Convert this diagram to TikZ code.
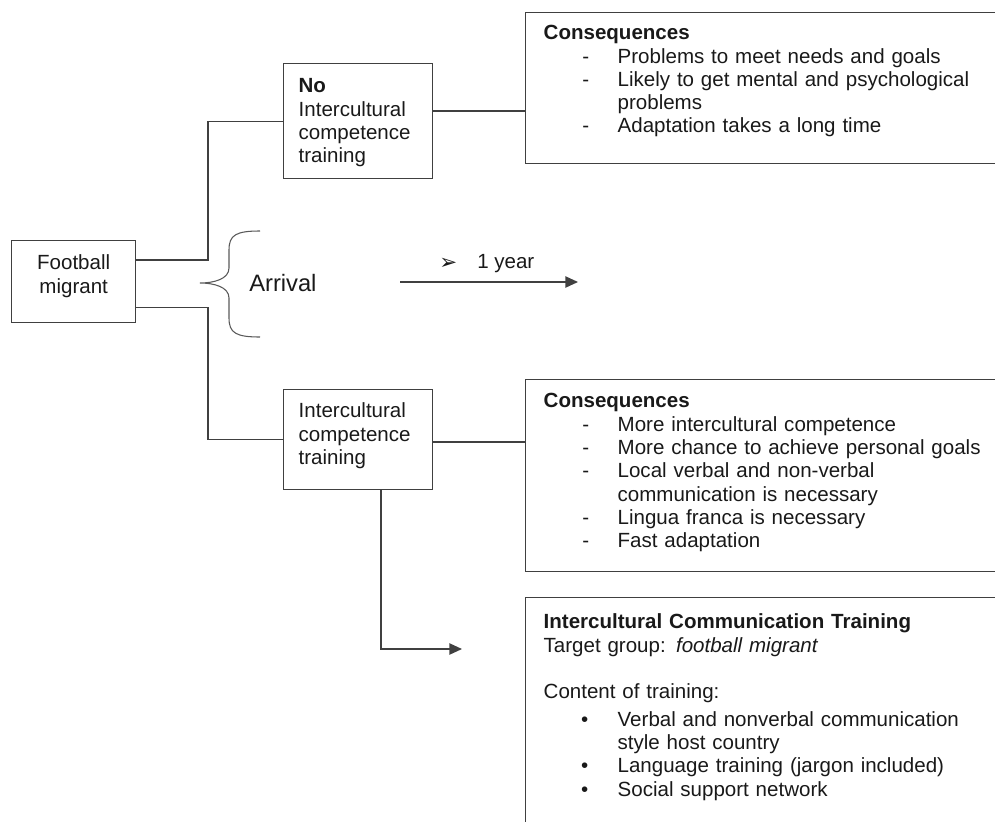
\documentclass[tikz,border=0pt]{standalone}
\usepackage{fontspec}
\setmainfont{Liberation Sans}
\newfontfamily\symfont{DejaVu Sans}
\usetikzlibrary{arrows.meta,calc}

\newcommand{\conitem}[1]{\hspace*{29pt}\makebox[26.5pt][l]{-}#1}
\newcommand{\conmore}[1]{\hspace*{55.5pt}#1}
\newcommand{\dotitem}[1]{\hspace*{28pt}\makebox[27.5pt][l]{\textbullet}#1}

\begin{document}
\begin{tikzpicture}[x=0.75pt,y=-0.75pt,
  box/.style={draw=black!75,line width=1pt,anchor=north west,inner ysep=0pt,align=left,text=black!90,
    font=\fontsize{15.4}{17.5}\selectfont},
  line/.style={draw=black!75,line width=1pt},
  tip/.style={-{Triangle[length=9.5pt,width=8.5pt]}}]
\useasboundingbox (0,0) rectangle (995,821);
% boxes
\node[box,inner xsep=0pt,text width=93pt,align=center,text height=21.75pt,text depth=39.75pt] (fm) at (11,240) {Football\\migrant};
\node[box,inner xsep=11.25pt,text width=89.25pt,text height=21.75pt,text depth=64.5pt] (no) at (283,63) {\textbf{No}\\Intercultural\\competence\\training};
\node[box,inner xsep=11.25pt,text width=89.25pt,text height=21pt,text depth=54pt] (lo) at (283,389) {Intercultural\\competence\\training};
\node[box,inner xsep=13.5pt,text width=336.75pt,text height=20.25pt,text depth=93pt] (ca) at (525,12) {\textbf{Consequences}\\
  \conitem{Problems to meet needs and goals}\\
  \conitem{Likely to get mental and psychological}\\
  \conmore{problems}\\
  \conitem{Adaptation takes a long time}};
\node[box,inner xsep=13.5pt,text width=336.75pt,text height=21pt,text depth=123pt] (cb) at (525,379) {\textbf{Consequences}\\
  \conitem{More intercultural competence}\\
  \conitem{More chance to achieve personal goals}\\
  \conitem{Local verbal and non-verbal}\\
  \conmore{communication is necessary}\\
  \conitem{Lingua franca is necessary}\\
  \conitem{Fast adaptation}};
\node[box,inner xsep=13.5pt,text width=336.75pt,text height=23.25pt,text depth=166.5pt] (ict) at (525,597) {\textbf{Intercultural Communication Training}\\
  Target group: \textit{football migrant}\\[17.5pt]
  Content of training:\\[3pt]
  \dotitem{Verbal and nonverbal communication}\\
  \conmore{style host country}\\
  \dotitem{Language training (jargon included)}\\
  \dotitem{Social support network}};
% arrival and time line
\draw[black!65,line width=0.8pt] (260,231) .. controls (236,231) and (229,235) .. (229,250) -- (229,268)
  .. controls (229,279) and (214,283) .. (200,283) .. controls (214,283) and (229,287) .. (229,298) -- (229,318)
  .. controls (229,333) and (236,337) .. (260,337);
\node[anchor=base west,inner sep=0pt,text=black!90,font=\fontsize{17.8}{20}\selectfont] (arr) at (249,291) {Arrival};
\coordinate (t0) at (400,282);
\coordinate (t1) at (578,282);
\draw[line,tip] (t0) -- (t1);
\node[anchor=base west,inner sep=0pt,text=black!90,font=\symfont\fontsize{16}{16}\selectfont] (mk) at (439,269) {➢};
\node[anchor=base west,inner sep=0pt,text=black!90,font=\fontsize{15.4}{17.5}\selectfont] (yr) at (477,268) {1 year};
% connectors
\draw[line] ($(fm.north east)+(0,20)$) -| ($(no.west)+(-75,0)$) -- (no.west);
\draw[line] ($(fm.south east)+(0,-16)$) -| ($(lo.west)+(-75,0)$) -- (lo.west);
\coordinate (nx) at ($(no.north east)+(0,48)$);
\draw[line] (nx) -- (nx -| ca.west);
\coordinate (lx) at ($(lo.north east)+(0,53)$);
\draw[line] (lx) -- (lx -| cb.west);
\coordinate (ld) at ($(lo.south west)+(98,0)$);
\coordinate (end) at (462,649);
\draw[line,tip] (ld) |- (end);
\end{tikzpicture}
\end{document}
